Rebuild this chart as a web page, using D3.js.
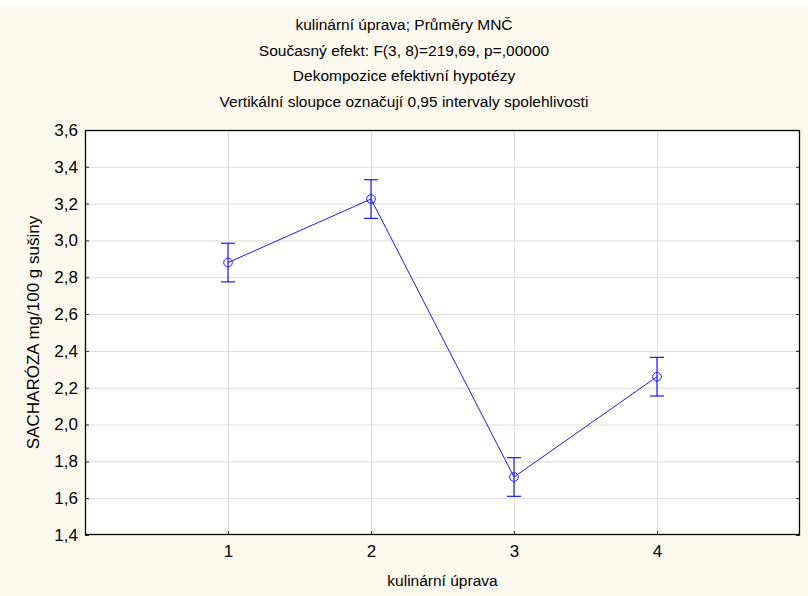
<!DOCTYPE html>
<html><head><meta charset="utf-8">
<script src="https://cdn.jsdelivr.net/npm/d3@7/dist/d3.min.js"></script>
<style>html,body{margin:0;padding:0;background:#fff;}svg{display:block;}</style>
</head><body>
<script>
const categories = [1, 2, 3, 4];
const means = [2.88, 3.225, 1.715, 2.26];
const upper = [2.985, 3.33, 1.82, 2.365];
const lower = [2.775, 3.12, 1.61, 2.155];
const yTicks = [1.4, 1.6, 1.8, 2.0, 2.2, 2.4, 2.6, 2.8, 3.0, 3.2, 3.4, 3.6];
const titleLines = ["kulinární úprava; Průměry MNČ", "Současný efekt: F(3, 8)=219,69, p=,00000", "Dekompozice efektivní hypotézy", "Vertikální sloupce označují 0,95 intervaly spolehlivosti"];
const xLabel = "kulinární úprava";
const yLabel = "SACHARÓZA mg/100 g sušiny";

const W = 808, H = 596;
const L = 85, R = 800, T = 130, B = 535;
const svg = d3.select("body").append("svg").attr("width", W).attr("height", H);
const font = "'Liberation Sans', Arial, sans-serif";

svg.append("rect").attr("x", 0).attr("y", 7).attr("width", W).attr("height", H - 7).attr("fill", "#fdf9ef");

const x = d3.scaleLinear().domain([0, 5]).range([L, R]);
const y = d3.scaleLinear().domain([1.4, 3.6]).range([B, T]);

svg.append("rect").attr("x", L).attr("y", T).attr("width", R - L).attr("height", B - T).attr("fill", "#fff");

// gridlines
svg.append("g").selectAll("line").data(yTicks.slice(1, -1)).join("line")
  .attr("x1", L).attr("x2", R).attr("y1", d => y(d) + 0.5).attr("y2", d => y(d) + 0.5)
  .attr("stroke", "#dcdcdc").attr("stroke-width", 1);
svg.append("g").selectAll("line").data(categories).join("line")
  .attr("y1", T).attr("y2", B).attr("x1", d => Math.round(x(d)) + 0.5).attr("x2", d => Math.round(x(d)) + 0.5)
  .attr("stroke", "#dcdcdc").attr("stroke-width", 1);

// axes (inward ticks)
const yAxis = d3.axisLeft(y).tickValues(yTicks).tickSize(-4).tickPadding(7)
  .tickFormat(d => d3.format(".1f")(d).replace(".", ","));
const gy = svg.append("g").attr("transform", `translate(${L},0)`).call(yAxis);
gy.select(".domain").remove();
gy.selectAll("text").attr("font-family", font).attr("font-size", 17).attr("fill", "#000");
gy.selectAll("line").attr("stroke", "#333");

const gyr = svg.append("g").attr("transform", `translate(${R},0)`).call(d3.axisRight(y).tickValues(yTicks).tickSize(-4).tickFormat(""));
gyr.select(".domain").remove();
gyr.selectAll("line").attr("stroke", "#333");

const xAxis = d3.axisBottom(x).tickValues(categories).tickSize(-4).tickPadding(10).tickFormat(d3.format("d"));
const gx = svg.append("g").attr("transform", `translate(0,${B})`).call(xAxis);
gx.select(".domain").remove();
gx.selectAll("text").attr("font-family", font).attr("font-size", 17).attr("fill", "#000");
gx.selectAll("line").attr("stroke", "#333");

// frame
svg.append("rect").attr("x", L + 0.5).attr("y", T + 0.5).attr("width", R - L - 1).attr("height", B - T - 1)
  .attr("fill", "none").attr("stroke", "#000").attr("stroke-width", 1.3);

// series
const blue = "#1a1aff";
const pts = categories.map((c, i) => ({c, m: means[i], u: upper[i], l: lower[i]}));
svg.append("path").datum(pts)
  .attr("d", d3.line().x(d => x(d.c)).y(d => y(d.m)))
  .attr("fill", "none").attr("stroke", blue).attr("stroke-width", 1);
const eb = svg.append("g").selectAll("g").data(pts).join("g");
eb.append("line").attr("x1", d => x(d.c)).attr("x2", d => x(d.c)).attr("y1", d => y(d.u)).attr("y2", d => y(d.l))
  .attr("stroke", blue).attr("stroke-width", 1.2);
eb.append("line").attr("x1", d => x(d.c) - 7).attr("x2", d => x(d.c) + 7).attr("y1", d => y(d.u)).attr("y2", d => y(d.u))
  .attr("stroke", blue).attr("stroke-width", 1.2);
eb.append("line").attr("x1", d => x(d.c) - 7).attr("x2", d => x(d.c) + 7).attr("y1", d => y(d.l)).attr("y2", d => y(d.l))
  .attr("stroke", blue).attr("stroke-width", 1.2);
eb.append("circle").attr("cx", d => x(d.c)).attr("cy", d => y(d.m)).attr("r", 4.3)
  .attr("fill", "none").attr("stroke", blue).attr("stroke-width", 1);

// titles
svg.append("g").selectAll("text").data(titleLines).join("text")
  .attr("x", 404).attr("y", (d, i) => 30 + i * 25.7)
  .attr("text-anchor", "middle").attr("font-family", font).attr("font-size", 15.5).attr("fill", "#000")
  .text(d => d);

svg.append("text").attr("x", (L + R) / 2).attr("y", 586).attr("text-anchor", "middle")
  .attr("font-family", font).attr("font-size", 15.5).attr("fill", "#000").text(xLabel);
svg.append("text").attr("transform", `translate(39,${(T + B) / 2}) rotate(-90)`).attr("text-anchor", "middle")
  .attr("font-family", font).attr("font-size", 17).attr("fill", "#000").text(yLabel);
</script>
</body></html>
